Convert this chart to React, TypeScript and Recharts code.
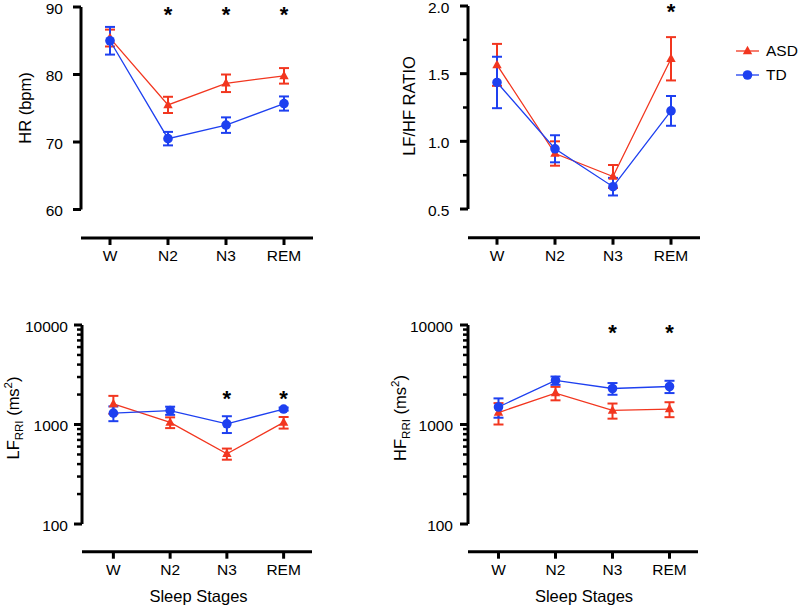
import React from 'react';
import {
  LineChart,
  Line,
  XAxis,
  YAxis,
  ErrorBar,
  ReferenceLine,
  ReferenceDot,
  Legend,
} from 'recharts';

const FONT = "'Liberation Sans', Arial, Helvetica, sans-serif";
const RED = '#F2361F';
const BLUE = '#1E40F0';

// ---------- data ----------
const stages = ['W', 'N2', 'N3', 'REM'];

const hrASD = [85.4, 75.5, 78.7, 79.8];
const hrASDErr = [1.25, 1.2, 1.3, 1.15];
const hrTD = [85.0, 70.5, 72.5, 75.7];
const hrTDErr = [2.05, 1.0, 1.15, 1.05];
const hrSig = ['N2', 'N3', 'REM'];
const hrTicks = [60, 70, 80, 90];

const ratioASD = [1.565, 0.91, 0.74, 1.61];
const ratioASDErr = [0.155, 0.09, 0.085, 0.16];
const ratioTD = [1.435, 0.945, 0.665, 1.225];
const ratioTDErr = [0.19, 0.1, 0.065, 0.11];
const ratioSig = ['REM'];
const ratioTicks = [0.5, 1.0, 1.5, 2.0];
const ratioMinorTicks = [0.75, 1.25, 1.75];

const lfASD = [1610, 1050, 508, 1050];
const lfASDErr = [330, 130, 65, 140];
const lfTD = [1300, 1380, 1016, 1430];
const lfTDErr = [220, 130, 195, 50];
const lfSig = ['N3', 'REM'];

const hfASD = [1320, 2070, 1385, 1430];
const hfASDErr = [320, 320, 240, 245];
const hfTD = [1500, 2770, 2300, 2410];
const hfTDErr = [330, 265, 310, 340];
const hfSig = ['N3', 'REM'];

const logTicks = [100, 1000, 10000];
const logMinorTicks = [200, 300, 400, 500, 600, 700, 800, 900, 2000, 3000, 4000, 5000, 6000, 7000, 8000, 9000];

const seriesNames = ['ASD', 'TD'];

type Row = { stage: string; asd: number; asdErr: number; td: number; tdErr: number };
const buildRows = (a: number[], ae: number[], t: number[], te: number[]): Row[] =>
  stages.map((s, i) => ({ stage: s, asd: a[i], asdErr: ae[i], td: t[i], tdErr: te[i] }));

// ---------- marks ----------
const triPoints = (cx: number, cy: number) =>
  `${cx},${cy - 5.2} ${cx - 4.7},${cy + 3.3} ${cx + 4.7},${cy + 3.3}`;

const renderTri = (p: any) => {
  if (p.cx == null || p.cy == null) return <g key={`t-${p.index}`} />;
  return <polygon key={`t-${p.index}`} points={triPoints(p.cx, p.cy)} fill={RED} />;
};
const renderCircle = (p: any) => {
  if (p.cx == null || p.cy == null) return <g key={`c-${p.index}`} />;
  return <circle key={`c-${p.index}`} cx={p.cx} cy={p.cy} r={4.8} fill={BLUE} />;
};

const renderStar = (p: any) => (
  <text
    x={p.cx}
    y={p.cy + 12.5}
    textAnchor="middle"
    fontSize={22}
    fontWeight="bold"
    fontFamily={FONT}
    fill="#000"
  >
    *
  </text>
);

// ---------- panel config ----------
interface PanelCfg {
  left: number;
  top: number;
  width: number;
  height: number;
  margin: { top: number; right: number; bottom: number; left: number };
  yWidth: number;
  xHeight: number;
  log: boolean;
  domain: [number, number];
  axisRange: [number, number];
  major: number[];
  minor: number[];
  fmt: (v: number) => string;
  labelGap: number;
  xPad: number;
  sigY: number;
  sig: string[];
  rows: Row[];
  yLabel: React.ReactNode;
  yLabelX: number;
  yLabelY: number;
  xTitle: boolean;
  legend: boolean;
}

const subLabel = (main: string) => (
  <>
    {main}
    <tspan fontSize={11.5} dy={4}>
      RRI
    </tspan>
    <tspan dy={-4}> (ms</tspan>
    <tspan fontSize={11.5} dy={-7}>
      2
    </tspan>
    <tspan dy={7}>)</tspan>
  </>
);

const panels: PanelCfg[] = [
  {
    left: 0,
    top: 0,
    width: 400,
    height: 300,
    margin: { top: 7, right: 87, bottom: 22, left: 0 },
    yWidth: 81,
    xHeight: 40,
    log: false,
    domain: [55.78, 90],
    axisRange: [60, 90],
    major: hrTicks,
    minor: [],
    fmt: (v) => String(v),
    labelGap: 18,
    xPad: 0,
    sigY: 89.7,
    sig: hrSig,
    rows: buildRows(hrASD, hrASDErr, hrTD, hrTDErr),
    yLabel: 'HR (bpm)',
    yLabelX: 30.5,
    yLabelY: 108,
    xTitle: false,
    legend: false,
  },
  {
    left: 380,
    top: 0,
    width: 420,
    height: 300,
    margin: { top: 6, right: 100, bottom: 22.3, left: 0 },
    yWidth: 88,
    xHeight: 40,
    log: false,
    domain: [0.288, 2.0],
    axisRange: [0.5, 2.0],
    major: ratioTicks,
    minor: ratioMinorTicks,
    fmt: (v) => v.toFixed(1),
    labelGap: 18.5,
    xPad: 0,
    sigY: 1.995,
    sig: ratioSig,
    rows: buildRows(ratioASD, ratioASDErr, ratioTD, ratioTDErr),
    yLabel: 'LF/HF RATIO',
    yLabelX: 35,
    yLabelY: 106,
    xTitle: false,
    legend: true,
  },
  {
    left: 0,
    top: 300,
    width: 400,
    height: 306,
    margin: { top: 25, right: 88, bottom: 0.3, left: 0 },
    yWidth: 82,
    xHeight: 54,
    log: true,
    domain: [52.7, 10000],
    axisRange: [100, 10000],
    major: logTicks,
    minor: logMinorTicks,
    fmt: (v) => String(v),
    labelGap: 14,
    xPad: 3,
    sigY: 2036,
    sig: lfSig,
    rows: buildRows(lfASD, lfASDErr, lfTD, lfTDErr),
    yLabel: subLabel('LF'),
    yLabelX: 19,
    yLabelY: 118,
    xTitle: true,
    legend: false,
  },
  {
    left: 380,
    top: 300,
    width: 420,
    height: 306,
    margin: { top: 25, right: 102, bottom: 0.3, left: 0 },
    yWidth: 88,
    xHeight: 54,
    log: true,
    domain: [52.7, 10000],
    axisRange: [100, 10000],
    major: logTicks,
    minor: logMinorTicks,
    fmt: (v) => String(v),
    labelGap: 15,
    xPad: 2,
    sigY: 9330,
    sig: hfSig,
    rows: buildRows(hfASD, hfASDErr, hfTD, hfTDErr),
    yLabel: subLabel('HF'),
    yLabelX: 26,
    yLabelY: 118,
    xTitle: true,
    legend: false,
  },
];

// ---------- legend ----------
const renderLegend = (props: any) => {
  const payload: any[] = props.payload || [];
  return (
    <div style={{ fontFamily: FONT, fontSize: 15.5, color: '#000' }}>
      {payload.map((entry: any) => {
        const isASD = entry.value === seriesNames[0];
        const color = isASD ? RED : BLUE;
        return (
          <div
            key={entry.value}
            style={{ display: 'flex', alignItems: 'center', height: 24, whiteSpace: 'nowrap' }}
          >
            <svg width={27} height={24} style={{ display: 'block' }}>
              <line x1={2} x2={25} y1={12} y2={12} stroke={color} strokeWidth={1.3} />
              {isASD ? (
                <polygon points={triPoints(13.5, 12)} fill={RED} />
              ) : (
                <circle cx={13.5} cy={12} r={4.8} fill={BLUE} />
              )}
            </svg>
            <span style={{ marginLeft: 5 }}>{entry.value}</span>
          </div>
        );
      })}
    </div>
  );
};

// ---------- panel ----------
function Panel({ cfg }: { cfg: PanelCfg }) {
  const axisX = cfg.margin.left + cfg.yWidth;

  const yTick = (props: any) => {
    const { y, payload } = props;
    const v = payload.value;
    const isMajor = cfg.major.some((m) => Math.abs(m - v) < 1e-9);
    const len = isMajor ? 8 : 5;
    return (
      <g>
        <line x1={axisX - len} x2={axisX} y1={y} y2={y} stroke="#000" strokeWidth={isMajor ? 3 : 2.5} />
        {isMajor && (
          <text
            x={axisX - cfg.labelGap}
            y={y + 6.5}
            textAnchor="end"
            fontSize={15.5}
            fontFamily={FONT}
            fill="#000"
          >
            {cfg.fmt(v)}
          </text>
        )}
      </g>
    );
  };

  const xTick = (props: any) => {
    const { x, y, payload } = props;
    return (
      <text x={x} y={y + 16} textAnchor="middle" fontSize={15.5} fontFamily={FONT} fill="#000">
        {payload.value}
      </text>
    );
  };

  const yLabel = () => (
    <text
      x={cfg.yLabelX}
      y={cfg.yLabelY}
      transform={`rotate(-90 ${cfg.yLabelX} ${cfg.yLabelY})`}
      textAnchor="middle"
      fontSize={16.5}
      fontFamily={FONT}
      fill="#000"
    >
      {cfg.yLabel}
    </text>
  );

  const xTitle = (props: any) => {
    const vb = props.viewBox || {};
    const cx = (vb.x ?? 0) + cfg.xPad + ((vb.width ?? 0) - cfg.xPad) / 2;
    const by = (vb.y ?? 0) + 50.3;
    return (
      <text x={cx} y={by} textAnchor="middle" fontSize={16.5} fontFamily={FONT} fill="#000">
        Sleep Stages
      </text>
    );
  };

  return (
    <div style={{ position: 'absolute', left: cfg.left, top: cfg.top }}>
      <LineChart width={cfg.width} height={cfg.height} data={cfg.rows} margin={cfg.margin}>
        <XAxis
          xAxisId="c"
          dataKey="stage"
          type="category"
          scale="band"
          padding={{ left: cfg.xPad, right: 0 }}
          axisLine={{ stroke: '#000', strokeWidth: 3 }}
          tickLine={{ stroke: '#000', strokeWidth: 3 }}
          tickSize={7}
          tickMargin={0}
          height={cfg.xHeight}
          interval={0}
          tick={xTick}
          label={cfg.xTitle ? xTitle : undefined}
        />
        <XAxis xAxisId="n" type="number" domain={[0, 1]} allowDataOverflow hide />
        <YAxis
          type="number"
          scale={cfg.log ? 'log' : 'linear'}
          domain={cfg.domain}
          allowDataOverflow
          ticks={[...cfg.major, ...cfg.minor]}
          interval={0}
          axisLine={false}
          tickLine={false}
          width={cfg.yWidth}
          tick={yTick}
          label={yLabel}
        />
        <ReferenceLine
          xAxisId="n"
          segment={[
            { x: 0, y: cfg.axisRange[0] },
            { x: 0, y: cfg.axisRange[1] },
          ]}
          stroke="#000"
          strokeWidth={3}
          ifOverflow="visible"
        />
        <Line
          xAxisId="c"
          dataKey="asd"
          name={seriesNames[0]}
          stroke={RED}
          strokeWidth={1.3}
          dot={renderTri}
          activeDot={false}
          isAnimationActive={false}
        >
          <ErrorBar dataKey="asdErr" direction="y" width={5} stroke={RED} strokeWidth={2} />
        </Line>
        <Line
          xAxisId="c"
          dataKey="td"
          name={seriesNames[1]}
          stroke={BLUE}
          strokeWidth={1.3}
          dot={renderCircle}
          activeDot={false}
          isAnimationActive={false}
        >
          <ErrorBar dataKey="tdErr" direction="y" width={5} stroke={BLUE} strokeWidth={2} />
        </Line>
        {cfg.sig.map((s) => (
          <ReferenceDot
            key={`sig-${s}`}
            xAxisId="c"
            x={s}
            y={cfg.sigY}
            r={0}
            shape={renderStar}
            ifOverflow="visible"
          />
        ))}
        {cfg.legend && (
          <Legend
            layout="vertical"
            align="center"
            verticalAlign="middle"
            content={renderLegend}
            wrapperStyle={{ left: 354, top: 39, width: 66, height: 48 }}
          />
        )}
      </LineChart>
    </div>
  );
}

export default function App() {
  return (
    <div
      style={{
        position: 'absolute',
        left: 0,
        top: 0,
        width: 800,
        height: 606,
        background: '#fff',
        overflow: 'hidden',
      }}
    >
      {panels.map((cfg, i) => (
        <Panel key={i} cfg={cfg} />
      ))}
    </div>
  );
}
